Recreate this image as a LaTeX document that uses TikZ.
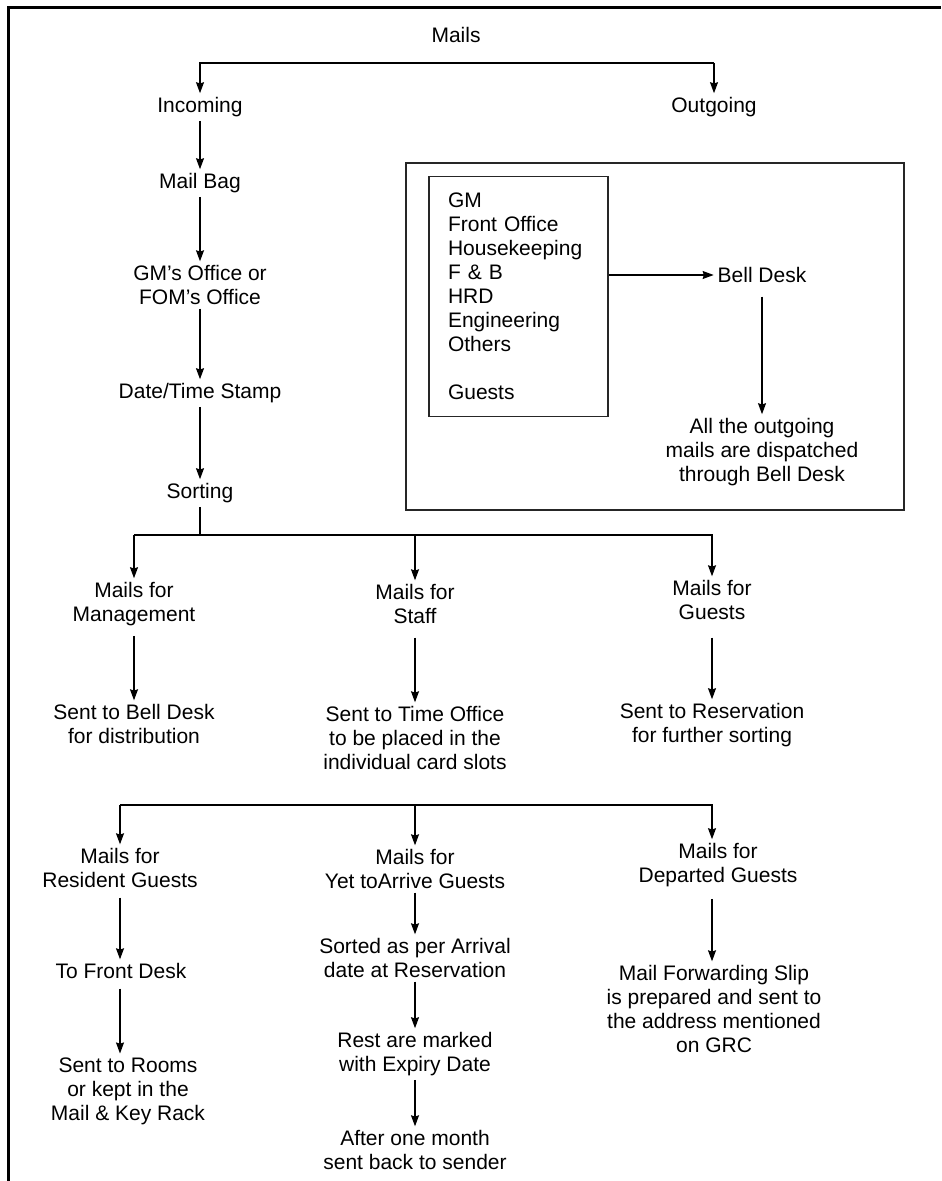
\documentclass[tikz,border=0pt]{standalone}
\usepackage{fontspec}
\setmainfont{Liberation Sans}
\usetikzlibrary{arrows.meta}
\begin{document}
\begin{tikzpicture}[x=0.5pt,y=-0.5pt,
  txt/.style={align=center, inner sep=0pt, outer sep=2pt, font=\fontsize{10.5}{12}\selectfont},
  arr/.style={line width=0.6pt, -{Stealth[length=5.5pt,width=4pt,inset=0.6pt]}},
  frame/.style={line width=0.75pt, draw=black!85},
  listbox/.style={draw=black!85, line width=0.75pt, minimum width=89.5pt, minimum height=120pt,
    text width=70.5pt, inner xsep=9.5pt, inner ysep=0pt, align=left,
    font=\fontsize{10.5}{12}\selectfont},
]
\useasboundingbox (0,0) rectangle (941,1181);
% page frame (top and left edges)
\draw[line width=1.5pt] (8,1181) -- (8,8) -- (941,8);

% ---- top split
\node[txt] (mails) at (456,35) {Mails};
\node[txt] (inc) at (200,107) {Incoming};
\node[txt] (out) at (714,107) {Outgoing};
\coordinate (t1) at (200,63);
\coordinate (t2) at (714,63);
\draw[arr] (t2) -- (t1) -- (inc.north);
\draw[arr] (t2) -- (out.north);

% ---- incoming chain
\node[txt] (bag) at (200,183) {Mail Bag};
\node[txt] (gm) at (200,285) {GM’s Office or\\FOM’s Office};
\node[txt] (stamp) at (200,393) {Date/Time Stamp};
\node[txt] (sort) at (200,493) {Sorting};
\draw[arr] (inc.south) -- (bag.north);
\draw[arr] (bag.south) -- (gm.north);
\draw[arr] (gm.south) -- (stamp.north);
\draw[arr] (stamp.south) -- (sort.north);

% ---- outgoing panel
\draw[frame] (406,163) rectangle (904,510);
\node[listbox] (src) at (518.5,296.5) {GM\\Front Office\\Housekeeping\\F \& B\\HRD\\Engineering\\Others\\[12pt]Guests};
\node[txt] (bell) at (762,275) {Bell Desk};
\node[txt] (disp) at (762,452) {All the outgoing\\mails are dispatched\\through Bell Desk};
\draw[arr] (src.east |- bell.west) -- (bell.west);
\draw[arr, shorten <=5pt] (bell.south) -- (disp.north);

% ---- sorting split
\coordinate (m1) at (134,535);
\coordinate (m2) at (415,535);
\coordinate (m3) at (712,535);
\draw[line width=0.6pt] (sort.south) -- (sort.south |- m2);
\node[txt] (mgmt) at (134,604) {Mails for\\Management};
\node[txt] (staff) at (415,604) {Mails for\\Staff};
\node[txt] (mguest) at (712,600) {Mails for\\Guests};
\draw[arr] (m1) -- (m3) -- (mguest.north);
\draw[arr] (m1) -- (mgmt.north);
\draw[arr] (m2) -- (staff.north);

\node[txt] (sbell) at (134,724) {Sent to Bell Desk\\for distribution};
\node[txt] (stime) at (415,738) {Sent to Time Office\\to be placed in the\\individual card slots};
\node[txt] (sres) at (712,725) {Sent to Reservation\\for further sorting};
\draw[arr, shorten <=3pt] (mgmt.south) -- (sbell.north);
\draw[arr, shorten <=5pt] (staff.south) -- (stime.north);
\draw[arr, shorten <=7pt] (mguest.south) -- (sres.north);

% ---- guest mail split
\coordinate (n1) at (120,805);
\coordinate (n2) at (415,805);
\coordinate (n3) at (712,805);
\node[txt] (res) at (120,868) {Mails for\\Resident Guests};
\node[txt] (yet) at (415,869) {Mails for\\Yet toArrive Guests};
\node[txt] (dep) at (718,865) {Mails for\\Departed Guests};
\draw[arr] (n1) -- (n3) -- (n3 |- dep.north);
\draw[arr] (n1) -- (res.north);
\draw[arr] (n2) -- (yet.north);

% resident guests
\node[txt] (fdesk) at (121,971) {To Front Desk};
\node[txt] (rooms) at (128,1091) {Sent to Rooms\\or kept in the\\Mail \& Key Rack};
\draw[arr, shorten <=3pt] (res.south) -- (res.south |- fdesk.north);
\draw[arr, shorten <=3pt] (res.south |- fdesk.south) -- (res.south |- rooms.north);

% guests yet to arrive
\node[txt] (sorted) at (415,958) {Sorted as per Arrival\\date at Reservation};
\node[txt] (rest) at (415,1054) {Rest are marked\\with Expiry Date};
\node[txt] (after) at (415,1150) {After one month\\sent back to sender};
\draw[arr] (yet.south) -- (sorted.north);
\draw[arr] (sorted.south) -- (rest.north);
\draw[arr] (rest.south) -- (after.north);

% departed guests
\node[txt] (fwd) at (714,1009) {Mail Forwarding Slip\\is prepared and sent to\\the address mentioned\\on GRC};
\draw[arr, shorten <=4pt] (n3 |- dep.south) -- (n3 |- fwd.north);
\end{tikzpicture}
\end{document}
